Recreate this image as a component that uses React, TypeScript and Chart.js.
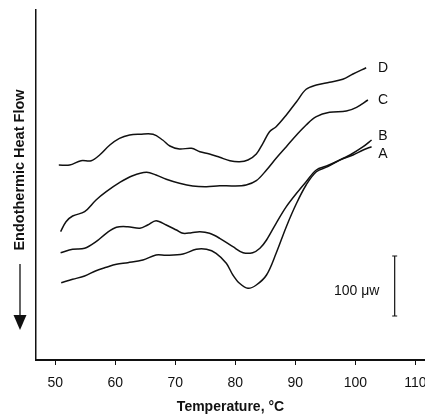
import React, { useEffect, useRef } from "react";
import { Chart, registerables } from "chart.js";

Chart.register(...registerables);

// Temperature (°C) and heat-flow (arbitrary units)
const tempA = [51.0, 52.9, 54.9, 56.8, 58.5, 60.2, 62.1, 64.6, 66.8, 68.5, 71.3, 73.5, 75.2, 76.8, 78.5, 79.6, 80.7, 82.1, 83.5, 85.2, 86.8, 88.5, 90.2, 91.8, 93.5, 95.4, 97.4, 99.6, 101.3, 102.7];
const flowA = [77.3, 80.7, 84, 89.3, 92.7, 95.7, 97.3, 100, 105, 104.7, 106, 110.7, 110.7, 106.7, 96.7, 85, 76.7, 71.7, 75, 85, 106.7, 133.3, 156.7, 175, 188.3, 193.3, 200, 205, 210, 213.3];

const tempB = [50.9, 52.9, 54.9, 56.8, 58.5, 60.2, 62.1, 64.1, 65.4, 66.8, 68.5, 70.2, 71.3, 72.7, 74.1, 75.7, 77.4, 79.6, 81.3, 82.9, 84.1, 85.2, 86.8, 88.5, 90.2, 91.8, 93.5, 95.2, 96.8, 99.1, 101.3, 102.7];
const flowB = [107.3, 110.7, 111.7, 118.3, 126.7, 132.7, 133.3, 131.7, 135, 139.3, 135, 130, 126.7, 127.3, 128.3, 126.7, 121.7, 113.3, 107.3, 107.3, 111.7, 120, 136.7, 153.3, 166.7, 178.3, 190, 194, 198.3, 205, 213.3, 220];

const tempC = [50.9, 51.8, 52.9, 54.9, 56.8, 58.5, 60.7, 62.9, 65.2, 66.8, 68.5, 70.7, 72.9, 75.2, 77.4, 79.6, 81.8, 83.5, 85.2, 86.8, 88.5, 90.2, 91.8, 93.5, 95.7, 98.5, 100.2, 102.1];
const flowC = [128.3, 138.3, 144, 148.3, 160, 168.3, 177.3, 184.3, 187.7, 185, 180.7, 176.7, 174, 173.3, 174.3, 174, 175, 179.3, 190, 201.7, 213.3, 225, 235, 243.3, 247.7, 249, 252.7, 260];

const tempD = [50.6, 52.4, 54.3, 56.0, 57.4, 59.1, 60.7, 62.4, 64.1, 66.3, 67.9, 69.1, 70.7, 72.7, 74.1, 75.7, 77.4, 79.1, 80.7, 82.1, 83.5, 84.6, 85.7, 86.8, 88.5, 90.2, 91.8, 93.5, 95.7, 97.9, 99.6, 101.8];
const flowD = [195, 195, 199.3, 199.3, 205, 215, 221.7, 225, 225.7, 225.7, 220, 214, 211, 211.7, 208.3, 206, 202.7, 199.3, 198.3, 200, 206, 216.7, 228.3, 233.3, 245, 258.3, 270.7, 275, 277.7, 280.7, 286, 292.3];

const xTickValues = [50, 60, 70, 80, 90, 100, 110];
const curveLabels = ["A", "B", "C", "D"];
const labelOffsets = [7, -4, 0, 0]; // vertical nudge in px for the end labels
const scaleBarLabel = "100 \u03bcw";
const scaleBarX = 106.55;
const scaleBarTop = 104;
const scaleBarBottom = 44;

const INK = "#111";
const FONT = "'Liberation Sans', Arial, Helvetica, sans-serif";

export default function App() {
  const ref = useRef<HTMLCanvasElement>(null);

  useEffect(() => {
    if (!ref.current) return;
    const toPts = (t: number[], v: number[]) => t.map((x, i) => ({ x, y: v[i] }));
    const mkDs = (label: string, t: number[], v: number[]) => ({
      label,
      data: toPts(t, v),
      borderColor: INK,
      borderWidth: 1.5,
      pointRadius: 0,
      tension: 0.35,
      fill: false,
    });

    const annot = {
      id: "annot",
      afterDraw(chart: any) {
        const ctx = chart.ctx as CanvasRenderingContext2D;
        const xs = chart.scales.x;
        const ys = chart.scales.y;
        ctx.save();
        ctx.fillStyle = INK;
        ctx.strokeStyle = INK;

        // curve end labels
        ctx.font = `14px ${FONT}`;
        ctx.textBaseline = "middle";
        ctx.textAlign = "center";
        chart.data.datasets.forEach((d: any, i: number) => {
          const last = d.data[d.data.length - 1];
          const px = xs.getPixelForValue(104.6);
          const py = ys.getPixelForValue(last.y) + labelOffsets[i];
          ctx.fillText(curveLabels[i], px, py);
        });

        // scale bar
        const bx = xs.getPixelForValue(scaleBarX);
        const bt = ys.getPixelForValue(scaleBarTop);
        const bb = ys.getPixelForValue(scaleBarBottom);
        ctx.lineWidth = 1.2;
        ctx.beginPath();
        ctx.moveTo(bx, bt);
        ctx.lineTo(bx, bb);
        ctx.moveTo(bx - 2.5, bt);
        ctx.lineTo(bx + 2.5, bt);
        ctx.moveTo(bx - 2.5, bb);
        ctx.lineTo(bx + 2.5, bb);
        ctx.stroke();
        ctx.font = `14px ${FONT}`;
        ctx.textAlign = "center";
        ctx.fillText(scaleBarLabel, bx - 38, (bt + bb) / 2 + 5);

        // y axis title + arrow
        ctx.save();
        ctx.translate(20, 170);
        ctx.rotate(-Math.PI / 2);
        ctx.font = `bold 14.5px ${FONT}`;
        ctx.textAlign = "center";
        ctx.textBaseline = "middle";
        ctx.fillText("Endothermic Heat Flow", 0, 0);
        ctx.restore();

        ctx.lineWidth = 1.3;
        ctx.beginPath();
        ctx.moveTo(20, 264);
        ctx.lineTo(20, 316);
        ctx.stroke();
        ctx.beginPath();
        ctx.moveTo(13.5, 315);
        ctx.lineTo(26.5, 315);
        ctx.lineTo(20, 330);
        ctx.closePath();
        ctx.fill();

        ctx.restore();
      },
    };

    const chart = new Chart(ref.current, {
      type: "line",
      data: {
        datasets: [
          mkDs("A", tempA, flowA),
          mkDs("B", tempB, flowB),
          mkDs("C", tempC, flowC),
          mkDs("D", tempD, flowD),
        ],
      },
      options: {
        animation: false,
        responsive: false,
        maintainAspectRatio: false,
        layout: { padding: { top: 10, left: 0, right: 0, bottom: 0 } },
        plugins: { legend: { display: false }, tooltip: { enabled: false } },
        scales: {
          x: {
            type: "linear",
            min: 46.8,
            max: 111.6,
            afterBuildTicks: (s: any) => {
              s.ticks = xTickValues.map((v) => ({ value: v }));
            },
            afterFit: (s: any) => {
              s.height = 55;
              s.paddingLeft = 0;
              s.paddingRight = 0;
            },
            grid: { display: true, drawOnChartArea: false, drawTicks: true, tickLength: 5, color: INK, lineWidth: 1 },
            border: { display: true, color: INK, width: 2 },
            ticks: {
              color: INK,
              font: { family: FONT, size: 14 },
              padding: 10,
              maxRotation: 0,
              autoSkip: false,
              callback: (v: any) => String(v),
            },
            title: {
              display: true,
              text: "Temperature, \u00b0C",
              color: INK,
              font: { family: FONT, size: 14, weight: "bold" },
              padding: { top: 0, bottom: -1 },
            },
          },
          y: {
            type: "linear",
            min: 0,
            max: 350,
            afterFit: (s: any) => {
              s.width = 36;
            },
            ticks: { display: false },
            grid: { display: false, drawTicks: false },
            border: { display: true, color: INK, width: 1.5 },
          },
        },
      },
      plugins: [annot],
    } as any);
    return () => chart.destroy();
  }, []);

  return (
    <div style={{ position: "absolute", left: 0, top: 0, width: 425, height: 415, background: "#fff" }}>
      <canvas ref={ref} width={425} height={415} style={{ display: "block" }} />
    </div>
  );
}
